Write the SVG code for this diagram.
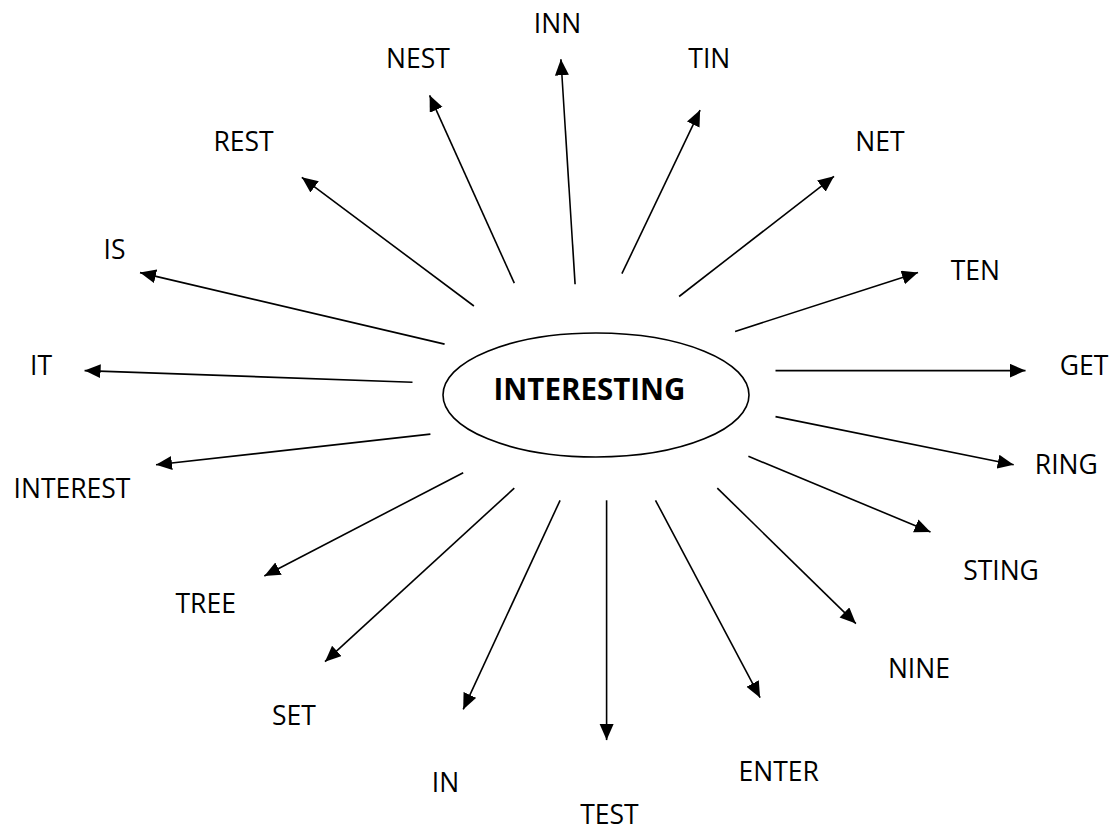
<svg xmlns="http://www.w3.org/2000/svg" width="1113" height="830" viewBox="0 0 1113 830">
<style>
.lbl{font-family:"Open Sans","Liberation Sans",sans-serif;font-size:26.5px;fill:#000;text-anchor:middle}
.ctr{font-family:"Open Sans","Liberation Sans",sans-serif;font-size:29.5px;font-weight:bold;fill:#000;text-anchor:middle}
.c{stroke:#000;stroke-width:1.6;fill:none;marker-end:url(#ah)}
</style>
<defs>
<marker id="ah" markerUnits="userSpaceOnUse" markerWidth="17" markerHeight="15" refX="16" refY="7" orient="auto">
<path d="M0,0 L16,7 L0,14 z" fill="#000"/>
</marker>
</defs>
<rect width="1113" height="830" fill="#fff"/>
<g id="center">
<ellipse cx="596" cy="395" rx="153" ry="62" fill="none" stroke="#000" stroke-width="1.6"/>
<text class="ctr" x="589.5" y="400">INTERESTING</text>
</g>
<g id="connectors">
<line class="c" x1="575.1" y1="284.3" x2="560.9" y2="59.3"/>
<line class="c" x1="514.3" y1="283.2" x2="429.6" y2="95.3"/>
<line class="c" x1="621.9" y1="273.7" x2="700.1" y2="110.1"/>
<line class="c" x1="473.9" y1="306" x2="301.8" y2="177.3"/>
<line class="c" x1="679.1" y1="296.5" x2="834" y2="176.3"/>
<line class="c" x1="444.6" y1="344.1" x2="140" y2="272.6"/>
<line class="c" x1="735.1" y1="331.4" x2="918" y2="272.6"/>
<line class="c" x1="412.5" y1="382.2" x2="84.6" y2="370.6"/>
<line class="c" x1="775.5" y1="370.6" x2="1025.5" y2="370.6"/>
<line class="c" x1="430.4" y1="434.1" x2="156" y2="464.8"/>
<line class="c" x1="775.5" y1="416.6" x2="1013.7" y2="464.8"/>
<line class="c" x1="463.2" y1="472.7" x2="264.3" y2="576"/>
<line class="c" x1="748.4" y1="456.3" x2="930.5" y2="532"/>
<line class="c" x1="514.3" y1="488.1" x2="325" y2="661.7"/>
<line class="c" x1="717.3" y1="488.1" x2="855.9" y2="623.6"/>
<line class="c" x1="560.1" y1="500.3" x2="463.2" y2="709.4"/>
<line class="c" x1="655.5" y1="500.3" x2="760.1" y2="697.7"/>
<line class="c" x1="606.6" y1="500.3" x2="606.6" y2="740.1"/>
</g>
<g id="n-inn"><text class="lbl" x="557.5" y="33">INN</text></g>
<g id="n-nest"><text class="lbl" x="417.9" y="67.8">NEST</text></g>
<g id="n-tin"><text class="lbl" x="709.3" y="67.8">TIN</text></g>
<g id="n-rest"><text class="lbl" x="243.5" y="151">REST</text></g>
<g id="n-net"><text class="lbl" x="880" y="151">NET</text></g>
<g id="n-is"><text class="lbl" x="114.5" y="259.4">IS</text></g>
<g id="n-ten"><text class="lbl" x="975.3" y="279.5">TEN</text></g>
<g id="n-it"><text class="lbl" x="41" y="374.5">IT</text></g>
<g id="n-get"><text class="lbl" x="1084" y="375.3">GET</text></g>
<g id="n-interest"><text class="lbl" x="72" y="497.6">INTEREST</text></g>
<g id="n-ring"><text class="lbl" x="1066.3" y="473.8">RING</text></g>
<g id="n-tree"><text class="lbl" x="205.7" y="612.5">TREE</text></g>
<g id="n-sting"><text class="lbl" x="1001" y="579.7">STING</text></g>
<g id="n-set"><text class="lbl" x="294" y="725.3">SET</text></g>
<g id="n-nine"><text class="lbl" x="918.9" y="677.6">NINE</text></g>
<g id="n-in"><text class="lbl" x="445.5" y="792">IN</text></g>
<g id="n-enter"><text class="lbl" x="778.7" y="780.8">ENTER</text></g>
<g id="n-test"><text class="lbl" x="609.5" y="824">TEST</text></g>
</svg>
